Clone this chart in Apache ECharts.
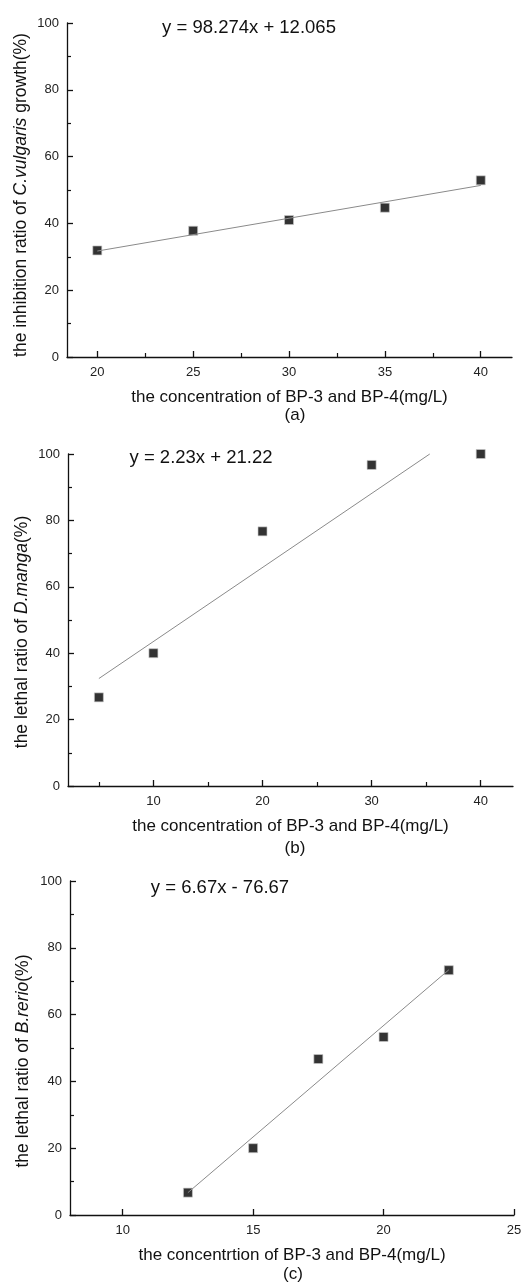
<!DOCTYPE html>
<html><head><meta charset="utf-8">
<script src="https://cdn.jsdelivr.net/npm/echarts@6/dist/echarts.min.js"></script>
<style>html,body{margin:0;padding:0;background:#fff}#c{width:525px;height:1284px}</style>
</head><body><div id="c"></div>
<script>
// ---- data ----
const concA = [20, 25, 30, 35, 40];
const inhibA = [31.9, 37.8, 41.0, 44.7, 52.9];
const fitA = [[20, 31.72], [40, 51.37]];
const xTicksA = [20, 25, 30, 35, 40];
const xMinorA = [22.5, 27.5, 32.5, 37.5];

const concB = [5, 10, 20, 30, 40];
const lethalB = [26.7, 40.0, 76.7, 96.7, 100.0];
const fitB = [[5, 32.37], [35.33, 100]];
const xTicksB = [10, 20, 30, 40];
const xMinorB = [5, 15, 25, 35];

const concC = [12.5, 15, 17.5, 20, 22.5];
const lethalC = [6.7, 20.0, 46.7, 53.3, 73.3];
const fitC = [[12.5, 6.7], [22.5, 73.4]];
const xTicksC = [10, 15, 20, 25];

const eqA = 'y = 98.274x + 12.065';
const eqB = 'y = 2.23x + 21.22';
const eqC = 'y = 6.67x - 76.67';

// ---- chart ----
const FONT = 'Liberation Sans, Arial, sans-serif';
const chart = echarts.init(document.getElementById('c'), null, {renderer: 'canvas'});
const axisLine = {show: true, lineStyle: {color: '#111', width: 1.3}};
const grids = [
  {left: 67, right: 13, top: 23, height: 334},
  {left: 68, right: 12, top: 454, height: 332},
  {left: 70, right: 11, top: 881, height: 334}
];
const xRanges = [[18.42, 41.63], [2.17, 42.96], [7.98, 25]];
const xTicks = [xTicksA, xTicksB, xTicksC];
const xMinors = [xMinorA, xMinorB, []];
const xNames = ['the concentration of BP-3 and BP-4(mg/L)', 'the concentration of BP-3 and BP-4(mg/L)', 'the concentrtion of BP-3 and BP-4(mg/L)'];
const yNames = [
  '{n|the inhibition ratio of }{i|C.vulgaris}{n| growth(%)}',
  '{n|the lethal ratio of }{i|D.manga}{n|(%)}',
  '{n|the lethal ratio of }{i|B.rerio}{n|(%)}'
];
const rich = {n: {fontFamily: FONT, fontSize: 17.5, fill: '#111', color: '#111'}, i: {fontFamily: FONT, fontSize: 17.5, fontStyle: 'italic', fill: '#111', color: '#111'}};

const xAxis = [], yAxis = [], series = [];
for (let g = 0; g < 3; g++) {
  xAxis.push({
    type: 'value', gridIndex: g, min: xRanges[g][0], max: xRanges[g][1],
    axisLine: axisLine, splitLine: {show: false},
    axisTick: {show: true, inside: true, length: 6, customValues: xTicks[g], lineStyle: {color: '#111', width: 1.3}},
    axisLabel: {customValues: xTicks[g], fontFamily: FONT, fontSize: 13, color: '#222', margin: 9, showMinLabel: true, showMaxLabel: true},
    name: xNames[g], nameLocation: 'middle', nameGap: 32,
    nameTextStyle: {fontFamily: FONT, fontSize: 17, color: '#111'}
  });
  yAxis.push({
    type: 'value', gridIndex: g, min: 0, max: 100, interval: 20,
    axisLine: axisLine, splitLine: {show: false},
    axisTick: {show: true, inside: true, length: 6, lineStyle: {color: '#111', width: 1.3}},
    minorTick: {show: true, splitNumber: 2, length: 4, lineStyle: {color: '#111', width: 1.2}},
    axisLabel: {fontFamily: FONT, fontSize: 13, color: '#222', margin: 8}
  });
}
// minor x ticks overlay axes
for (let g = 0; g < 2; g++) {
  xAxis.push({
    type: 'value', gridIndex: g, min: xRanges[g][0], max: xRanges[g][1], position: 'bottom',
    axisLine: {show: false}, splitLine: {show: false}, axisLabel: {show: false},
    axisTick: {show: true, inside: true, length: 4, customValues: xMinors[g], lineStyle: {color: '#111', width: 1.2}}
  });
}
const datasets = [[concA, inhibA, fitA], [concB, lethalB, fitB], [concC, lethalC, fitC]];
for (let g = 0; g < 3; g++) {
  const [xs, ys, fit] = datasets[g];
  series.push({
    type: 'line', xAxisIndex: g, yAxisIndex: g, data: fit, showSymbol: false, symbol: 'none',
    lineStyle: {color: '#8a8a8a', width: 1}, silent: true, animation: false, clip: false
  });
  series.push({
    type: 'scatter', xAxisIndex: g, yAxisIndex: g, data: xs.map((x, i) => [x, ys[i]]),
    symbol: 'rect', symbolSize: 9, itemStyle: {color: '#000', borderColor: '#c8c8c8', borderWidth: 0.8},
    animation: false, clip: false
  });
}
const txt = (x, y, t, size) => ({type: 'text', x: x, y: y, style: {text: t, fontFamily: FONT, fontSize: size, fill: '#111', textAlign: 'center', textVerticalAlign: 'middle'}});
const vtxt = (x, y, t) => ({type: 'text', x: x, y: y, rotation: Math.PI / 2, style: {text: t, rich: rich, fontFamily: FONT, fontSize: 17.5, fill: '#111', align: 'center', verticalAlign: 'middle'}});
chart.setOption({
  animation: false,
  grid: grids, xAxis: xAxis, yAxis: yAxis, series: series,
  graphic: [
    txt(249, 28, eqA, 18.5),
    txt(201, 458, eqB, 18.5),
    txt(220, 888, eqC, 18.5),
    txt(295, 415, '(a)', 17),
    txt(295, 848, '(b)', 17),
    txt(293, 1274, '(c)', 17),
    vtxt(21, 195, yNames[0]),
    vtxt(22, 632, yNames[1]),
    vtxt(23, 1061, yNames[2])
  ]
});
</script></body></html>
